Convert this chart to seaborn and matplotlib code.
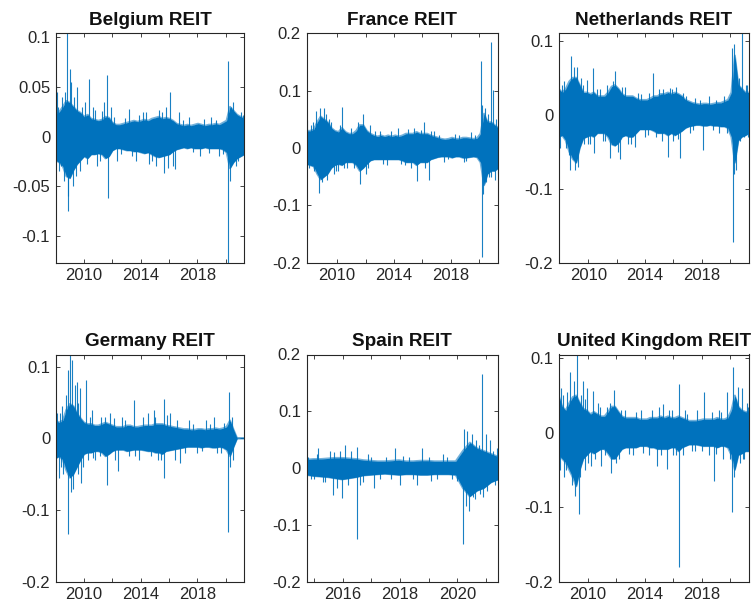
import numpy as np
import pandas as pd
import matplotlib
matplotlib.use("Agg")
import matplotlib.pyplot as plt
import seaborn as sns
from matplotlib.ticker import FixedLocator, FuncFormatter

# ---------------------------------------------------------------------------
# Daily REIT returns, summarised per market as the dense return band
# (upper / lower extent of the day-to-day swings on a quarterly grid),
# the large daily moves that stick far out of that band, and the smaller
# moves that poke just past its edges.  Dates are decimal years.
# ---------------------------------------------------------------------------

belgium_span = [2008.0, 2021.32]
belgium_hi = [0.022, 0.025, 0.030, 0.036, 0.034, 0.030, 0.026, 0.024,
              0.020, 0.022, 0.018, 0.017, 0.016, 0.017, 0.020, 0.019,
              0.014, 0.012, 0.012, 0.013, 0.014, 0.015, 0.016, 0.015,
              0.016, 0.017, 0.016, 0.018, 0.019, 0.020, 0.018, 0.019,
              0.018, 0.016, 0.013, 0.012, 0.011, 0.012, 0.011, 0.012,
              0.013, 0.012, 0.011, 0.012, 0.012, 0.013, 0.012, 0.014,
              0.016, 0.030, 0.026, 0.022, 0.020, 0.018]
belgium_lo = [-0.024, -0.026, -0.030, -0.040, -0.042, -0.034, -0.028, -0.024,
              -0.020, -0.022, -0.018, -0.018, -0.017, -0.018, -0.022, -0.020,
              -0.014, -0.012, -0.012, -0.013, -0.014, -0.014, -0.015, -0.015,
              -0.016, -0.017, -0.016, -0.018, -0.020, -0.021, -0.020, -0.019,
              -0.018, -0.015, -0.013, -0.012, -0.011, -0.012, -0.011, -0.012,
              -0.012, -0.012, -0.011, -0.012, -0.012, -0.012, -0.012, -0.013,
              -0.016, -0.032, -0.026, -0.022, -0.020, -0.018]
belgium_spike_t = [2008.02, 2008.10, 2008.20, 2008.45, 2008.60, 2008.80, 2008.84,
                   2008.90, 2009.00, 2009.10, 2009.20, 2009.50, 2009.70, 2010.05,
                   2010.38, 2010.60, 2010.90, 2011.40, 2011.65, 2011.66, 2011.90,
                   2012.30, 2013.20, 2013.70, 2014.20, 2014.60, 2015.30, 2015.67,
                   2015.80, 2016.10, 2016.45, 2016.70, 2017.40, 2018.20, 2019.00,
                   2019.50, 2020.19, 2020.20, 2020.30, 2020.40, 2020.70, 2021.10]
belgium_spike_v = [0.052, 0.045, -0.035, 0.040, -0.045, 0.104, -0.075,
                   -0.060, 0.068, 0.055, -0.050, 0.050, -0.035, 0.035,
                   0.058, 0.030, -0.030, 0.035, 0.062, -0.062, 0.030,
                   -0.025, 0.028, -0.025, 0.025, -0.028, 0.027, -0.037,
                   0.030, 0.045, -0.033, 0.025, 0.020, -0.020, 0.020,
                   -0.020, 0.076, -0.127, -0.045, 0.030, -0.030, 0.025]
belgium_small_t = [2008.15, 2008.35, 2008.65, 2009.30, 2009.40, 2009.85, 2010.20,
                   2010.75, 2011.10, 2011.25, 2012.10, 2012.60, 2012.90, 2013.40,
                   2013.90, 2014.40, 2014.80, 2015.10, 2015.50, 2015.95, 2016.25,
                   2017.00, 2017.70, 2018.50, 2018.80, 2019.30, 2019.80, 2020.50,
                   2020.90, 2021.25]
belgium_small_v = [0.030, -0.030, 0.045, 0.040, -0.040, 0.030, -0.028,
                   0.027, -0.025, 0.026, 0.020, -0.018, 0.019, -0.020,
                   0.022, 0.025, -0.025, -0.030, 0.025, -0.032, -0.030,
                   0.017, -0.016, 0.018, -0.017, 0.017, -0.018, 0.035,
                   -0.025, 0.022]

france_span = [2007.85, 2021.34]
france_hi = [0.030, 0.030, 0.032, 0.045, 0.055, 0.050, 0.045, 0.035, 0.030,
             0.028, 0.035, 0.028, 0.025, 0.025, 0.030, 0.040, 0.040, 0.030,
             0.025, 0.022, 0.020, 0.022, 0.020, 0.022, 0.020, 0.022, 0.020,
             0.022, 0.025, 0.025, 0.025, 0.028, 0.025, 0.025, 0.025, 0.022,
             0.020, 0.018, 0.016, 0.015, 0.016, 0.018, 0.016, 0.016, 0.018,
             0.018, 0.017, 0.016, 0.017, 0.025, 0.060, 0.045, 0.045, 0.040,
             0.035]
france_lo = [-0.028, -0.030, -0.032, -0.045, -0.055, -0.050, -0.045, -0.035, -0.030,
             -0.028, -0.030, -0.025, -0.025, -0.025, -0.030, -0.040, -0.035, -0.028,
             -0.022, -0.020, -0.020, -0.020, -0.020, -0.020, -0.020, -0.020, -0.020,
             -0.022, -0.025, -0.025, -0.025, -0.030, -0.025, -0.025, -0.025, -0.020,
             -0.018, -0.016, -0.015, -0.015, -0.015, -0.017, -0.015, -0.015, -0.017,
             -0.017, -0.016, -0.015, -0.016, -0.025, -0.065, -0.045, -0.040, -0.040,
             -0.035]
france_spike_t = [2007.87, 2008.00, 2008.30, 2008.55, 2008.70, 2008.82, 2008.95,
                  2009.05, 2009.20, 2009.30, 2009.60, 2009.75, 2010.10, 2010.35,
                  2010.50, 2011.00, 2011.64, 2011.80, 2012.00, 2012.30, 2013.00,
                  2013.50, 2014.30, 2014.80, 2015.40, 2015.63, 2016.10, 2016.45,
                  2016.80, 2017.50, 2018.30, 2018.90, 2019.40, 2020.09, 2020.16,
                  2020.22, 2020.25, 2020.40, 2020.50, 2020.80, 2020.85, 2020.99,
                  2021.10, 2021.20]
france_spike_v = [0.048, -0.035, 0.045, 0.065, -0.079, 0.069, -0.060,
                  0.069, 0.060, -0.055, 0.045, -0.045, -0.040, 0.072,
                  -0.035, 0.035, -0.062, 0.060, -0.045, 0.040, 0.030,
                  -0.030, 0.035, -0.030, 0.035, -0.058, 0.045, -0.055,
                  0.030, -0.025, 0.025, -0.025, 0.028, 0.152, -0.190,
                  0.075, -0.080, 0.070, -0.060, 0.184, -0.050, 0.101,
                  -0.055, 0.050]
france_small_t = [2008.15, 2008.40, 2009.45, 2009.90, 2010.20, 2010.70, 2011.20,
                  2011.50, 2012.20, 2012.70, 2013.20, 2013.80, 2014.50, 2015.00,
                  2015.20, 2015.90, 2016.20, 2016.60, 2017.20, 2017.80, 2018.60,
                  2019.10, 2019.70, 2020.60, 2020.70, 2021.30]
france_small_v = [0.040, -0.040, 0.050, -0.040, 0.040, -0.035, -0.035,
                  0.045, -0.035, 0.030, -0.028, 0.030, -0.028, 0.033,
                  -0.035, 0.032, -0.035, 0.030, 0.022, -0.020, 0.022,
                  -0.022, 0.022, 0.060, -0.050, -0.045]

netherlands_span = [2007.90, 2021.34]
netherlands_hi = [0.035, 0.030, 0.035, 0.045, 0.050, 0.050, 0.040, 0.030, 0.030,
                  0.028, 0.030, 0.025, 0.025, 0.025, 0.030, 0.038, 0.040, 0.035,
                  0.028, 0.025, 0.025, 0.025, 0.022, 0.020, 0.020, 0.020, 0.022,
                  0.025, 0.025, 0.028, 0.028, 0.030, 0.028, 0.030, 0.028, 0.025,
                  0.020, 0.018, 0.016, 0.015, 0.014, 0.015, 0.015, 0.014, 0.015,
                  0.016, 0.016, 0.018, 0.020, 0.030, 0.080, 0.040, 0.035, 0.030,
                  0.030]
netherlands_lo = [-0.030, -0.028, -0.035, -0.050, -0.060, -0.065, -0.045, -0.032, -0.030,
                  -0.028, -0.030, -0.025, -0.025, -0.025, -0.030, -0.040, -0.042, -0.038,
                  -0.030, -0.028, -0.030, -0.030, -0.025, -0.020, -0.020, -0.020, -0.020,
                  -0.022, -0.025, -0.025, -0.025, -0.028, -0.025, -0.028, -0.025, -0.022,
                  -0.018, -0.016, -0.015, -0.014, -0.014, -0.015, -0.015, -0.014, -0.015,
                  -0.015, -0.016, -0.016, -0.018, -0.030, -0.065, -0.035, -0.030, -0.028,
                  -0.025]
netherlands_spike_t = [2007.92, 2008.00, 2008.30, 2008.60, 2008.71, 2008.78, 2008.95,
                       2009.06, 2009.20, 2009.29, 2009.45, 2009.70, 2009.93, 2010.10,
                       2010.35, 2010.36, 2010.80, 2011.00, 2011.30, 2011.53, 2011.70,
                       2011.89, 2012.10, 2012.24, 2012.60, 2013.00, 2013.30, 2013.50,
                       2014.00, 2014.55, 2014.80, 2015.30, 2015.61, 2015.90, 2016.20,
                       2016.48, 2016.70, 2017.20, 2017.50, 2018.08, 2018.50, 2019.20,
                       2019.60, 2020.15, 2020.20, 2020.25, 2020.30, 2020.44, 2020.60,
                       2020.88, 2021.00, 2021.20]
netherlands_spike_v = [0.052, -0.045, 0.045, -0.055, -0.075, 0.080, 0.065,
                       -0.075, 0.065, -0.070, 0.050, -0.040, 0.047, -0.040,
                       0.063, -0.052, 0.035, -0.035, 0.040, -0.059, 0.045,
                       0.059, -0.050, -0.060, 0.038, -0.040, -0.043, 0.030,
                       -0.030, 0.057, -0.030, 0.035, -0.057, 0.035, 0.038,
                       -0.058, 0.030, -0.025, 0.022, -0.048, 0.025, -0.025,
                       0.025, 0.090, -0.172, 0.095, -0.080, -0.075, 0.050,
                       0.110, -0.030, 0.040]
netherlands_small_t = [2008.10, 2008.45, 2009.60, 2010.00, 2010.60, 2011.15, 2012.40,
                       2012.80, 2013.70, 2014.20, 2014.30, 2015.00, 2015.20, 2015.75,
                       2016.00, 2016.30, 2016.90, 2017.40, 2017.90, 2018.80, 2019.00,
                       2019.80, 2020.70, 2021.10, 2021.30]
netherlands_small_v = [0.040, -0.045, 0.040, -0.040, 0.035, -0.035, 0.038,
                       -0.040, 0.028, -0.028, 0.030, 0.035, -0.035, 0.036,
                       -0.035, -0.033, 0.025, -0.020, 0.020, -0.020, 0.020,
                       -0.025, -0.035, 0.040, -0.030]

germany_span = [2008.0, 2021.32]
germany_hi = [0.025, 0.022, 0.025, 0.040, 0.048, 0.045, 0.035, 0.028, 0.022,
              0.020, 0.020, 0.018, 0.018, 0.020, 0.022, 0.020, 0.018, 0.016,
              0.016, 0.016, 0.018, 0.018, 0.016, 0.016, 0.017, 0.018, 0.018,
              0.018, 0.020, 0.020, 0.020, 0.018, 0.017, 0.016, 0.015, 0.014,
              0.013, 0.013, 0.012, 0.012, 0.013, 0.013, 0.012, 0.013, 0.013,
              0.014, 0.013, 0.014, 0.016, 0.025, 0.012, 0.0, 0.0, 0.0]
germany_lo = [-0.028, -0.025, -0.030, -0.045, -0.055, -0.050, -0.040, -0.030, -0.022,
              -0.020, -0.020, -0.018, -0.018, -0.020, -0.025, -0.022, -0.018, -0.016,
              -0.016, -0.016, -0.018, -0.017, -0.016, -0.016, -0.016, -0.017, -0.018,
              -0.018, -0.020, -0.020, -0.022, -0.018, -0.017, -0.016, -0.015, -0.014,
              -0.013, -0.012, -0.012, -0.012, -0.012, -0.013, -0.012, -0.012, -0.013,
              -0.013, -0.012, -0.013, -0.016, -0.025, -0.012, 0.0, 0.0, 0.0]
germany_spike_t = [2008.02, 2008.05, 2008.20, 2008.30, 2008.45, 2008.55, 2008.70,
                   2008.84, 2008.90, 2009.00, 2009.05, 2009.13, 2009.20, 2009.35,
                   2009.48, 2009.60, 2009.72, 2009.79, 2010.14, 2010.30, 2010.54,
                   2010.80, 2011.20, 2011.65, 2011.80, 2012.43, 2012.70, 2013.20,
                   2013.50, 2013.90, 2014.50, 2014.91, 2015.20, 2015.62, 2015.67,
                   2016.10, 2016.40, 2016.80, 2017.40, 2018.00, 2018.60, 2019.17,
                   2019.70, 2020.19, 2020.24, 2020.30, 2020.45]
germany_spike_v = [0.040, -0.045, -0.055, 0.035, 0.045, -0.050, 0.060,
                   -0.134, 0.095, 0.117, -0.075, 0.110, -0.070, 0.075,
                   0.078, -0.050, 0.070, -0.062, 0.082, -0.030, 0.040,
                   -0.030, 0.030, -0.065, 0.035, -0.045, 0.030, -0.025,
                   0.053, -0.030, 0.035, 0.040, -0.030, 0.055, -0.055,
                   0.035, -0.030, -0.035, 0.025, -0.020, 0.025, 0.030,
                   -0.020, -0.130, 0.065, -0.040, 0.030]
germany_small_t = [2008.10, 2008.40, 2009.60, 2009.90, 2010.40, 2010.65, 2011.10,
                   2011.45, 2012.10, 2012.20, 2012.90, 2013.60, 2014.20, 2014.70,
                   2015.00, 2015.45, 2015.85, 2016.60, 2017.10, 2017.70, 2018.30,
                   2018.90, 2019.40, 2019.90, 2020.50]
germany_small_v = [0.035, -0.040, 0.050, -0.040, 0.030, -0.028, -0.025,
                   0.030, 0.028, -0.030, 0.025, -0.025, 0.030, -0.025,
                   0.030, -0.030, 0.032, 0.025, -0.020, 0.020, -0.018,
                   0.020, -0.020, 0.022, -0.030]

spain_span = [2014.74, 2021.43]
spain_hi = [0.015, 0.016, 0.016, 0.017, 0.018, 0.018, 0.017, 0.016, 0.014, 0.013,
            0.012, 0.012, 0.013, 0.014, 0.012, 0.012, 0.013, 0.013, 0.012, 0.012,
            0.012, 0.012, 0.030, 0.045, 0.035, 0.030, 0.025, 0.020]
spain_lo = [-0.012, -0.014, -0.015, -0.016, -0.018, -0.020, -0.018, -0.016, -0.013, -0.012,
            -0.011, -0.010, -0.011, -0.012, -0.011, -0.011, -0.012, -0.012, -0.011, -0.011,
            -0.011, -0.012, -0.035, -0.050, -0.040, -0.035, -0.025, -0.020]
spain_spike_t = [2014.80, 2015.00, 2015.15, 2015.40, 2015.55, 2015.65, 2015.82,
                 2015.90, 2015.97, 2016.08, 2016.20, 2016.49, 2016.50, 2016.70,
                 2016.90, 2017.10, 2017.50, 2017.83, 2018.00, 2018.30, 2018.59,
                 2018.77, 2019.10, 2019.50, 2019.80, 2020.20, 2020.23, 2020.30,
                 2020.34, 2020.40, 2020.50, 2020.60, 2020.75, 2020.85, 2020.90,
                 2021.00, 2021.15, 2021.30, 2021.38]
spain_spike_v = [0.020, -0.020, 0.035, -0.025, 0.030, -0.047, -0.035,
                 0.030, -0.052, 0.041, -0.030, 0.038, -0.125, -0.025,
                 0.025, -0.035, 0.020, 0.035, -0.030, 0.020, -0.030,
                 0.035, -0.022, 0.025, -0.020, -0.134, 0.068, -0.067,
                 0.065, -0.075, 0.060, -0.055, 0.040, 0.166, -0.050,
                 0.060, 0.050, -0.030, 0.035]
spain_small_t = [2014.90, 2015.10, 2015.30, 2015.70, 2016.30, 2016.60, 2017.00,
                 2017.30, 2017.70, 2018.10, 2018.45, 2019.00, 2019.30, 2019.65,
                 2020.00, 2020.55, 2020.65, 2020.80, 2021.05, 2021.25]
spain_small_v = [-0.020, 0.025, -0.025, 0.028, 0.030, -0.030, 0.020,
                 -0.020, -0.020, 0.022, -0.020, 0.020, -0.020, 0.020,
                 -0.022, -0.050, 0.050, -0.045, -0.040, 0.030]

uk_span = [2007.93, 2021.34]
uk_hi = [0.050, 0.035, 0.030, 0.040, 0.048, 0.050, 0.040, 0.032, 0.030,
         0.025, 0.028, 0.025, 0.022, 0.022, 0.028, 0.035, 0.035, 0.028,
         0.022, 0.020, 0.020, 0.020, 0.020, 0.018, 0.018, 0.018, 0.020,
         0.020, 0.020, 0.022, 0.020, 0.022, 0.020, 0.020, 0.022, 0.020,
         0.018, 0.016, 0.016, 0.016, 0.017, 0.018, 0.018, 0.018, 0.018,
         0.020, 0.018, 0.018, 0.020, 0.030, 0.050, 0.035, 0.030, 0.028,
         0.028]
uk_lo = [-0.030, -0.035, -0.040, -0.050, -0.060, -0.072, -0.050, -0.035, -0.030,
         -0.025, -0.028, -0.025, -0.022, -0.022, -0.028, -0.035, -0.035, -0.028,
         -0.022, -0.020, -0.020, -0.020, -0.020, -0.018, -0.018, -0.018, -0.020,
         -0.020, -0.022, -0.022, -0.022, -0.022, -0.020, -0.020, -0.025, -0.020,
         -0.018, -0.016, -0.016, -0.016, -0.017, -0.018, -0.018, -0.018, -0.018,
         -0.020, -0.018, -0.018, -0.020, -0.030, -0.050, -0.030, -0.028, -0.025,
         -0.025]
uk_spike_t = [2007.95, 2008.00, 2008.12, 2008.30, 2008.55, 2008.71, 2008.85,
              2009.00, 2009.06, 2009.22, 2009.34, 2009.50, 2009.65, 2009.80,
              2009.93, 2010.24, 2010.35, 2010.70, 2010.94, 2011.30, 2011.65,
              2011.82, 2012.20, 2012.60, 2013.20, 2013.70, 2014.30, 2014.83,
              2015.00, 2015.30, 2015.54, 2015.90, 2016.20, 2016.41, 2016.43,
              2016.80, 2017.30, 2017.70, 2018.18, 2018.50, 2018.84, 2019.20,
              2019.50, 2019.78, 2020.00, 2020.13, 2020.18, 2020.30, 2020.53,
              2020.70, 2020.84, 2021.00, 2021.20]
uk_spike_v = [0.074, -0.050, 0.060, -0.060, 0.055, 0.081, -0.070,
              0.070, -0.085, 0.105, -0.109, 0.050, 0.070, -0.050,
              0.060, -0.045, 0.056, 0.040, -0.045, 0.035, -0.054,
              0.058, -0.035, 0.030, -0.030, 0.030, -0.030, -0.045,
              0.035, 0.038, -0.049, 0.030, -0.030, 0.065, -0.180,
              0.030, -0.025, 0.030, 0.054, -0.030, -0.065, 0.030,
              -0.035, 0.055, -0.035, -0.107, 0.088, -0.060, 0.061,
              -0.040, 0.060, -0.035, 0.040]
uk_small_t = [2008.20, 2008.45, 2009.45, 2009.75, 2010.00, 2010.50, 2010.85,
              2011.20, 2011.55, 2012.00, 2012.35, 2012.90, 2013.40, 2013.90,
              2014.50, 2015.15, 2015.70, 2016.00, 2016.70, 2017.00, 2017.50,
              2018.00, 2018.70, 2019.00, 2019.40, 2020.40, 2020.95, 2021.30]
uk_small_v = [0.050, -0.050, -0.060, 0.045, -0.040, -0.035, 0.035,
              -0.030, 0.040, -0.040, 0.030, -0.028, 0.028, -0.027,
              0.030, -0.030, 0.030, -0.030, -0.030, 0.025, -0.025,
              -0.025, 0.028, -0.028, 0.028, 0.045, -0.035, 0.035]

titles = ["Belgium REIT", "France REIT", "Netherlands REIT",
          "Germany REIT", "Spain REIT", "United Kingdom REIT"]

y_limits = [(-0.127, 0.104), (-0.2, 0.2), (-0.2, 0.110),
            (-0.2, 0.117), (-0.2, 0.2), (-0.2, 0.105)]
y_ticks_small = [-0.1, -0.05, 0, 0.05, 0.1]
y_ticks_wide = [-0.2, -0.1, 0, 0.1, 0.2]

x_labels_long = [2010, 2014, 2018]
x_minor_long = [2012, 2016, 2020]
x_labels_spain = [2016, 2018, 2020]
x_minor_spain = [2015, 2017, 2019, 2021]

# ---------------------------------------------------------------------------
BLUE = "#0072BD"
INK = "#262626"

sns.set_theme(style="white")
plt.rcParams["font.family"] = ["Liberation Sans", "DejaVu Sans"]
plt.rcParams["axes.unicode_minus"] = False

fig = plt.figure(figsize=(7.55, 6.11), dpi=100)
fig.patch.set_facecolor("white")

W, H = 755.0, 611.0
cols = [(55.7, 244.3), (306.5, 498.3), (558.7, 749.0)]
rows = [(33.3, 262.7), (354.5, 581.7)]

panels = [
    (belgium_span, belgium_hi, belgium_lo,
     belgium_spike_t + belgium_small_t, belgium_spike_v + belgium_small_v),
    (france_span, france_hi, france_lo,
     france_spike_t + france_small_t, france_spike_v + france_small_v),
    (netherlands_span, netherlands_hi, netherlands_lo,
     netherlands_spike_t + netherlands_small_t, netherlands_spike_v + netherlands_small_v),
    (germany_span, germany_hi, germany_lo,
     germany_spike_t + germany_small_t, germany_spike_v + germany_small_v),
    (spain_span, spain_hi, spain_lo,
     spain_spike_t + spain_small_t, spain_spike_v + spain_small_v),
    (uk_span, uk_hi, uk_lo,
     uk_spike_t + uk_small_t, uk_spike_v + uk_small_v),
]


def fmt_num(v, _pos=None):
    if abs(v) < 1e-12:
        return "0"
    return "%g" % v


for k, (span, hi, lo, st, sv) in enumerate(panels):
    r, c = divmod(k, 3)
    x0, x1 = cols[c]
    ytop, ybot = rows[r]
    ax = fig.add_axes([x0 / W, (H - ybot) / H, (x1 - x0) / W, (ybot - ytop) / H])

    band = pd.DataFrame({"date": np.linspace(span[0], span[1], len(hi)),
                         "hi": hi, "lo": lo})
    ax.fill_between(band["date"], band["lo"], band["hi"], color=BLUE, lw=0)
    sns.lineplot(data=band, x="date", y="hi", ax=ax, color=BLUE, lw=1.4, alpha=0.55)
    sns.lineplot(data=band, x="date", y="lo", ax=ax, color=BLUE, lw=1.4, alpha=0.55)

    moves = pd.DataFrame({"date": st, "ret": sv})
    ax.vlines(moves["date"], 0, moves["ret"], color=BLUE, lw=0.8, alpha=0.9)

    ax.set_xlim(span[0], span[1])
    ax.set_ylim(*y_limits[k])
    ax.set(xlabel="", ylabel="")

    if k == 4:
        major, minor = x_labels_spain, x_minor_spain
    else:
        major, minor = x_labels_long, x_minor_long
    ax.xaxis.set_major_locator(FixedLocator(major))
    ax.xaxis.set_minor_locator(FixedLocator(minor))
    ax.xaxis.set_major_formatter(FuncFormatter(lambda v, p: "%d" % round(v)))

    yt = y_ticks_small if k == 0 else y_ticks_wide
    ax.yaxis.set_major_locator(FixedLocator(yt))
    ax.yaxis.set_major_formatter(FuncFormatter(fmt_num))

    ax.tick_params(axis="both", which="both", direction="in", top=True, right=True,
                   bottom=True, left=True, color=INK, width=0.6, length=3,
                   labelsize=12, labelcolor=INK, pad=4)
    ax.tick_params(axis="x", which="minor", labelbottom=False)
    for s in ax.spines.values():
        s.set_color(INK)
        s.set_linewidth(0.8)
        s.set_visible(True)
    ax.set_facecolor("white")
    ax.set_title(titles[k], fontsize=13.6, fontweight="bold", color="#111111", pad=6)

fig.savefig("out.png", dpi=100, facecolor="white")
